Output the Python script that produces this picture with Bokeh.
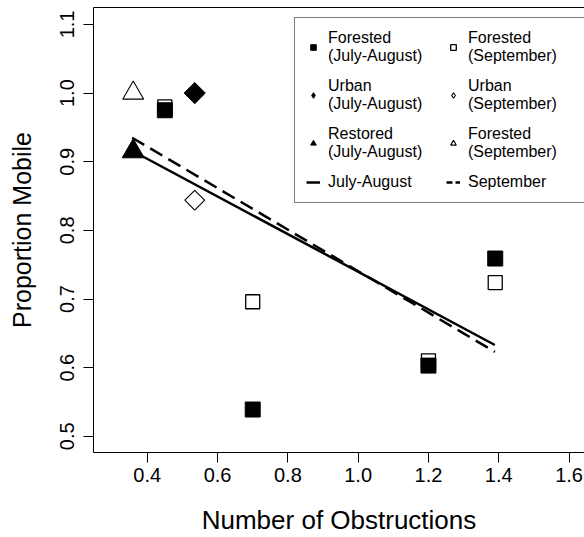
import math
from bokeh.plotting import figure
from bokeh.models import Range1d, LinearAxis, FixedTicker, Legend, LegendItem
from bokeh.embed import file_html
from bokeh.resources import INLINE

FONT = "Liberation Sans"

# ---- data ----
x_ticks = [0.4, 0.6, 0.8, 1.0, 1.2, 1.4, 1.6]
x_tick_labels = ["0.4", "0.6", "0.8", "1.0", "1.2", "1.4", "1.6"]
y_ticks = [0.5, 0.6, 0.7, 0.8, 0.9, 1.0, 1.1]
y_tick_labels = ["0.5", "0.6", "0.7", "0.8", "0.9", "1.0", "1.1"]

forested_ja_x = [0.45, 0.70, 1.20, 1.39]
forested_ja_y = [0.975, 0.539, 0.603, 0.759]
forested_sep_x = [0.45, 0.70, 1.20, 1.39]
forested_sep_y = [0.980, 0.696, 0.610, 0.724]
urban_ja_x = [0.535]
urban_ja_y = [1.000]
urban_sep_x = [0.535]
urban_sep_y = [0.844]
restored_ja_x = [0.36]
restored_ja_y = [0.915]
forested_sep_tri_x = [0.36]
forested_sep_tri_y = [1.000]

fit_x = [0.357, 1.389]
fit_ja_y = [0.916, 0.633]
fit_sep_y = [0.935, 0.623]

p = figure(width=584, height=537, output_backend="svg", toolbar_location=None,
           x_range=Range1d(0.247, 1.644), y_range=Range1d(0.4764, 1.1247),
           min_border_left=93, min_border_right=0, min_border_top=7,
           min_border_bottom=84)
p.grid.visible = False
p.outline_line_color = None
p.background_fill_color = "white"
p.border_fill_color = "white"

for ax, ticks, labels in ((p.xaxis[0], x_ticks, x_tick_labels),
                          (p.yaxis[0], y_ticks, y_tick_labels)):
    ax.ticker = FixedTicker(ticks=ticks)
    ax.major_label_overrides = {t: l for t, l in zip(ticks, labels)}
    ax.axis_line_color = "black"
    ax.major_tick_line_color = "black"
    ax.major_tick_out = 10
    ax.major_tick_in = 0
    ax.minor_tick_line_color = None
    ax.major_label_text_font = FONT
    ax.major_label_text_font_size = "20px"
    ax.major_label_text_color = "black"
    ax.axis_label_text_font = FONT
    ax.axis_label_text_font_style = "normal"
    ax.axis_label_text_color = "black"

p.xaxis.axis_label = "Number of Obstructions"
p.yaxis.axis_label = "Proportion Mobile"
p.xaxis.axis_label_text_font_size = "26px"
p.yaxis.axis_label_text_font_size = "25px"
p.xaxis.major_label_standoff = 5
p.xaxis.axis_label_standoff = 20
p.yaxis.major_label_orientation = "vertical"
p.yaxis.major_label_standoff = 9
p.yaxis.axis_label_standoff = 22

top = LinearAxis(ticker=FixedTicker(ticks=[]), axis_line_color="black",
                 major_tick_line_color=None, minor_tick_line_color=None,
                 major_label_text_font_size="0px")
p.add_layout(top, "above")

r1 = p.scatter(forested_ja_x, forested_ja_y, marker="square", size=15,
               fill_color="black", line_color="black")
r2 = p.scatter(forested_sep_x, forested_sep_y, marker="square", size=14,
               fill_color=None, line_color="black", line_width=1.3)
p.scatter(urban_ja_x, urban_ja_y, marker="square", angle=math.pi / 4,
          size=15, fill_color="black", line_color="black")
p.scatter(urban_sep_x, urban_sep_y, marker="square", angle=math.pi / 4,
          size=14, fill_color=None, line_color="black", line_width=1.1)
r5 = p.scatter(restored_ja_x, restored_ja_y, marker="triangle", size=22,
               fill_color="black", line_color="black")
r6 = p.scatter(forested_sep_tri_x, forested_sep_tri_y, marker="triangle",
               size=21, fill_color=None, line_color="black", line_width=1.1)
r7 = p.line(fit_x, fit_ja_y, line_color="black", line_width=2.5)
p.line(fit_x, fit_sep_y, line_color="black", line_width=2.5,
       line_dash="14 7")

# legend-only glyphs (zero size / single point: nothing drawn in the plot)
r3 = p.scatter(urban_ja_x, urban_ja_y, marker="diamond", size=0,
               fill_color="black", line_color="black")
r4 = p.scatter(urban_sep_x, urban_sep_y, marker="diamond", size=0,
               fill_color=None, line_color="black", line_width=1.1)
r8 = p.line(fit_x[:1], fit_sep_y[:1], line_color="black", line_width=2.5,
            line_dash="6 3")

# column-major fill -> reads row by row as in the reference
items = [
    LegendItem(label="Forested\n(July-August)", renderers=[r1]),
    LegendItem(label="Urban\n(July-August)", renderers=[r3]),
    LegendItem(label="Restored\n(July-August)", renderers=[r5]),
    LegendItem(label="July-August", renderers=[r7]),
    LegendItem(label="Forested\n(September)", renderers=[r2]),
    LegendItem(label="Urban\n(September)", renderers=[r4]),
    LegendItem(label="Forested\n(September)", renderers=[r6]),
    LegendItem(label="September", renderers=[r8]),
]
legend = Legend(items=items, ncols=2, location=(201, 249),
                label_text_font=FONT, label_text_font_size="16px",
                label_text_color="black", border_line_color="black",
                border_line_width=1.5, background_fill_alpha=1.0,
                glyph_width=14, glyph_height=16, label_standoff=8,
                label_width=106, spacing=12, padding=11, margin=0)
p.add_layout(legend)

open("out.html", "w").write(file_html(p, INLINE))
